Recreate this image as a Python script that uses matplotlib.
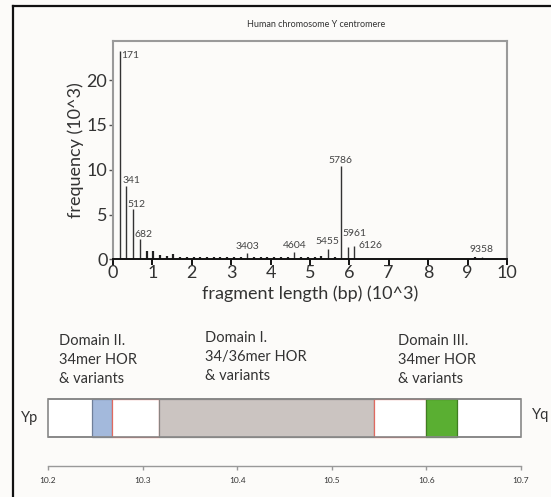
import numpy as np
import matplotlib.pyplot as plt
from matplotlib.lines import Line2D
from matplotlib.patches import Rectangle

plt.rcParams['font.family'] = ['Lato', 'DejaVu Sans']

# main labelled peaks (bp, frequency in 10^3)
peak_pos = [171, 341, 512, 682, 3403, 4604, 5455, 5786, 5961, 6126, 9358]
peak_freq = [23.3, 8.17, 5.68, 2.26, 0.67, 0.78, 1.18, 10.43, 1.34, 1.52, 0.29]

# smaller unlabelled multimer peaks
minor_pos = [853, 1023, 1194, 1364, 1535, 1705, 1876, 2046, 2217, 2387, 2558,
             2728, 2899, 3069, 3240, 3581, 3752, 3922, 4093, 4263, 4434,
             4775, 4945, 5116, 5286, 5627, 9188]
minor_freq = [0.97, 0.97, 0.48, 0.37, 0.56, 0.3, 0.28, 0.26, 0.28, 0.26, 0.28,
              0.26, 0.26, 0.26, 0.28, 0.26, 0.26, 0.28, 0.26, 0.26, 0.26,
              0.28, 0.26, 0.3, 0.4, 0.3, 0.28]

# centromere map (Mb)
region_start = [10.2465, 10.2673, 10.3170, 10.5443, 10.5996, 10.6323]
region_end = [10.2673, 10.3170, 10.5443, 10.5996, 10.6323, 10.7000]
region_color = ['#a3b9dc', 'white', '#cbc4c1', 'white', '#5aaf32', 'white']
region_edge = ['#6f7f99', '#e06a60', '#8a8482', '#e06a60', '#3f7d22', '#888888']
map_ticks = [10.2, 10.3, 10.4, 10.5, 10.6, 10.7]
domain_text = ['Domain II.\n34mer HOR\n& variants',
               'Domain I.\n34/36mer HOR\n& variants',
               'Domain III.\n34mer HOR\n& variants']

bg = '#fcfbf9'
fig = plt.figure(figsize=(5.51, 4.97), dpi=100, facecolor=bg)

# ---- histogram of fragment lengths
ax = fig.add_axes([0.205, 0.478, 0.715, 0.44], facecolor=bg)
kb = np.array(peak_pos) / 1000.0
ax.vlines(np.array(minor_pos) / 1000.0, 0, minor_freq, color='#222222', lw=1.6)
ax.vlines(kb, 0, peak_freq, color='#333333', lw=1.0)
ax.set_xlim(0, 10)
ax.set_ylim(0, 24.4)
ax.set_xticks(range(0, 11))
ax.set_yticks([0, 5, 10, 15, 20])
for s in ['top', 'right', 'left']:
    ax.spines[s].set_color('#9a9a9a')
    ax.spines[s].set_linewidth(1.5)
ax.spines['bottom'].set_color('#111111')
ax.spines['bottom'].set_linewidth(1.4)
ax.tick_params(axis='x', direction='out', length=4, width=1.4, labelsize=13,
               pad=0, color='#111111', labelcolor='#333333')
ax.tick_params(axis='y', direction='out', length=3, width=1.0, labelsize=13,
               pad=1, color='#555555', labelcolor='#333333')
ax.set_xlabel('fragment length (bp) (10^3)', fontsize=13, color='#333333', labelpad=3)
ax.set_ylabel('frequency (10^3)', fontsize=13, color='#333333', labelpad=2)

# label offsets in points
offs = {171: (1, -7, 'left'), 341: (-3, 1, 'left'), 512: (-4, 0, 'left'),
        682: (-4, 0, 'left'), 3403: (0, 2, 'center'), 4604: (0, 2, 'center'),
        5455: (0, 2, 'center'), 5786: (0, 1, 'center'), 5961: (-4, 7, 'left'),
        6126: (3, -3, 'left'), 9358: (0, 2, 'center')}
for p, f in zip(peak_pos, peak_freq):
    dx, dy, ha = offs[p]
    ax.annotate(str(p), (p / 1000.0, f), xytext=(dx, dy), textcoords='offset points',
                ha=ha, va='bottom', fontsize=7.5, color='#444444')

fig.text(0.574, 0.95, 'Human chromosome Y centromere', ha='center', va='center',
         fontsize=6.5, color='#333333')

# ---- centromere map
ax2 = fig.add_axes([0.0871, 0.0624, 0.858, 0.134], facecolor='none')
ax2.set_xlim(10.2, 10.7)
ax2.set_ylim(0, 1)
bar_y, bar_h = 0.44, 0.56
ax2.add_patch(Rectangle((10.2, bar_y), 0.5, bar_h, facecolor='white',
                        edgecolor='#888888', lw=1.2, clip_on=False))
for x0, x1, c, e in zip(region_start, region_end, region_color, region_edge):
    if c == 'white' and e == '#888888':
        continue
    ax2.add_patch(Rectangle((x0, bar_y), x1 - x0, bar_h, facecolor=c,
                            edgecolor=e, lw=0.9, clip_on=False))
ax2.hlines([bar_y, bar_y + bar_h], 10.2, 10.7, color='#888888', lw=1.2, clip_on=False)
for s in ['top', 'right', 'left']:
    ax2.spines[s].set_visible(False)
ax2.spines['bottom'].set_color('#999999')
ax2.spines['bottom'].set_linewidth(1.0)
ax2.set_yticks([])
ax2.set_xticks(map_ticks)
ax2.set_xticklabels([f'{t:.1f}' for t in map_ticks])
ax2.tick_params(axis='x', direction='out', length=3, width=1.0, color='#999999',
                labelsize=6, labelcolor='#333333', pad=5)

for (tx, ty), s in zip([(0.1065, 0.328), (0.372, 0.334), (0.722, 0.328)], domain_text):
    fig.text(tx, ty, s, ha='left', va='top', fontsize=10.5, linespacing=1.45,
             color='#333333')
fig.text(0.038, 0.159, 'Yp', ha='left', va='center', fontsize=10.5, color='#333333')
fig.text(0.966, 0.165, 'Yq', ha='left', va='center', fontsize=10.5, color='#333333')

# outer frame (left and top edges visible)
fig.add_artist(Line2D([0.0245, 0.0245], [0, 0.988], color='#111111', lw=1.6))
fig.add_artist(Line2D([0.0245, 1.0], [0.988, 0.988], color='#111111', lw=1.6))

fig.savefig('out.png', dpi=100, facecolor=bg)
